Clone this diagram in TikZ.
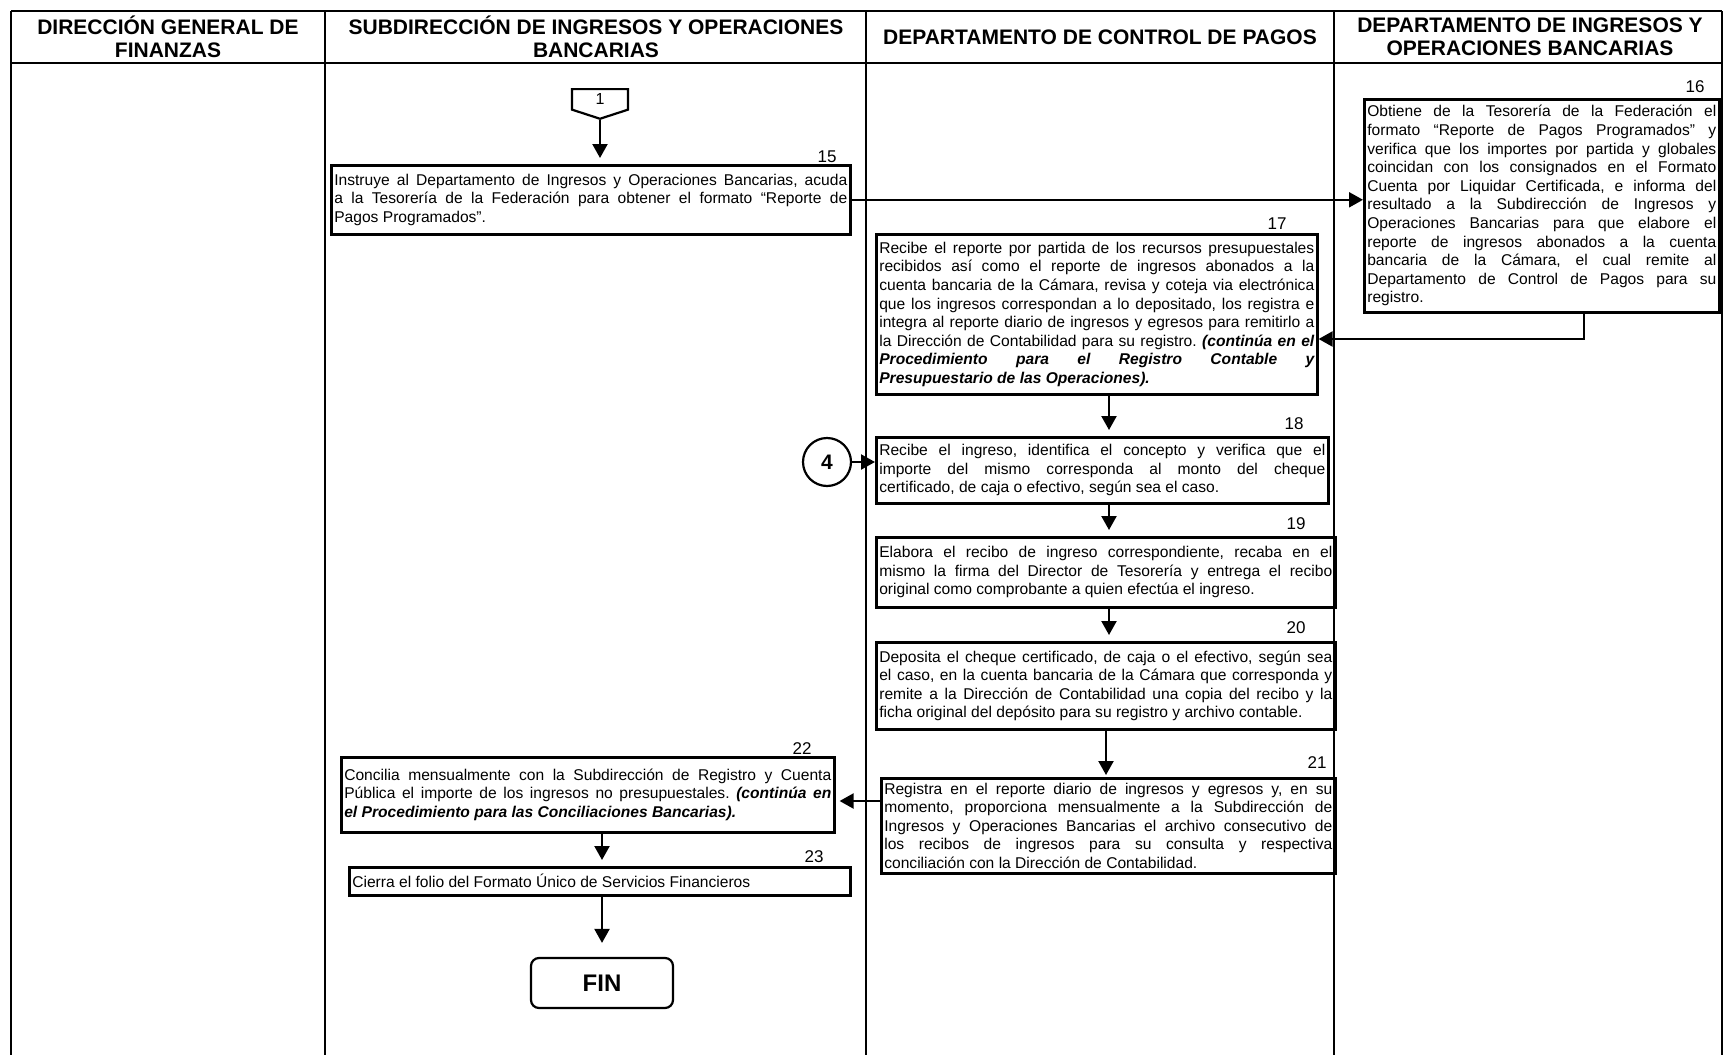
\documentclass[tikz,border=0pt]{standalone}
\usepackage{fontspec}
\setmainfont{Liberation Sans}
\usepackage{tikz}
\usetikzlibrary{arrows.meta,shapes.symbols}
\hyphenpenalty=10000
\exhyphenpenalty=10000
\frenchspacing

\begin{document}
\begin{tikzpicture}[x=0.5pt, y=-0.5pt,
        lane/.style={line width=0.9pt},
        head/.style={align=center, font=\bfseries\fontsize{10.5}{11.5}\selectfont},
        task/.style={rectangle, draw, line width=1.3pt, anchor=north west, align=justify, inner xsep=1.5pt, inner ysep=1.5pt, font=\fontsize{7.8}{9.3}\selectfont,
            execute at begin node={\spaceskip=0.278em plus 2em minus 0.1em\relax}},
        num/.style={font=\fontsize{8.5}{8.5}\selectfont, inner sep=0pt},
        flow/.style={draw=black, -{Triangle[length=7pt, width=7.5pt]}, line width=1.1pt}
    ]
    \useasboundingbox (0,0) rectangle (1725,1055);

    % lanes
    \draw[lane] (11,11) -- (1722,11);
    \draw[lane] (11,63) -- (1722,63);
    \foreach \x in {11,325,866,1334,1722}
        \draw[lane] (\x,11) -- (\x,1055);

    \node[head] (h1) at (168,37) {DIRECCIÓN GENERAL DE\\FINANZAS};
    \node[head] (h2) at (596,37) {SUBDIRECCIÓN DE INGRESOS Y OPERACIONES\\BANCARIAS};
    \node[head] (h3) at (1100,37) {DEPARTAMENTO DE CONTROL DE PAGOS};
    \node[head] (h4) at (1530,37) {DEPARTAMENTO DE INGRESOS Y\\OPERACIONES BANCARIAS};

    % flow lines of the lanes
    \coordinate (sx) at (602,0);
    \coordinate (cx) at (1109,0);

    \node[signal, draw, signal to=south, signal pointer angle=144, line width=1.1pt, minimum width=28pt, minimum height=11pt, anchor=north, inner sep=0pt, font=\fontsize{8}{8}\selectfont] (c1) at (600,88) {1};

    \node[task, text width=256.5pt, minimum height=34.5pt] (b15) at (330,164) {Instruye al Departamento de Ingresos y Operaciones Bancarias, acuda\linebreak a la Tesorería de la Federación para obtener el formato “Reporte de\linebreak Pagos Programados”.};
    \node[task, text width=174.5pt, minimum height=106.5pt] (b16) at (1363,98) {Obtiene de la Tesorería de la Federación el\linebreak formato “Reporte de Pagos Programados” y\linebreak verifica que los importes por partida y globales\linebreak coincidan con los consignados en el Formato\linebreak Cuenta por Liquidar Certificada, e informa del\linebreak resultado a la Subdirección de Ingresos y\linebreak Operaciones Bancarias para que elabore el\linebreak reporte de ingresos abonados a la cuenta\linebreak bancaria de la Cámara, el cual remite al\linebreak Departamento de Control de Pagos para su\linebreak registro.};
    \node[task, text width=217.5pt, minimum height=80pt] (b17) at (875,233) {Recibe el reporte por partida de los recursos presupuestales\linebreak recibidos así como el reporte de ingresos abonados a la\linebreak cuenta bancaria de la Cámara, revisa y coteja via electrónica\linebreak que los ingresos correspondan a lo depositado, los registra e\linebreak integra al reporte diario de ingresos y egresos para remitirlo a\linebreak la Dirección de Contabilidad para su registro. \textbf{\textit{(continúa en el\linebreak Procedimiento para el Registro Contable y\linebreak Presupuestario de las Operaciones).}}};
    \node[task, text width=223pt, minimum height=33pt] (b18) at (875,436) {Recibe el ingreso, identifica el concepto y verifica que el\linebreak importe del mismo corresponda al monto del cheque\linebreak certificado, de caja o efectivo, según sea el caso.};
    \node[task, text width=226.5pt, minimum height=35pt] (b19) at (875,536) {Elabora el recibo de ingreso correspondiente, recaba en el\linebreak mismo la firma del Director de Tesorería y entrega el recibo\linebreak original como comprobante a quien efectúa el ingreso.};
    \node[task, text width=226.5pt, minimum height=43.5pt] (b20) at (875,641) {Deposita el cheque certificado, de caja o el efectivo, según sea\linebreak el caso, en la cuenta bancaria de la Cámara que corresponda y\linebreak remite a la Dirección de Contabilidad una copia del recibo y la\linebreak ficha original del depósito para su registro y archivo contable.};
    \node[task, text width=224pt, minimum height=47.5pt] (b21) at (880,777) {Registra en el reporte diario de ingresos y egresos y, en su\linebreak momento, proporciona mensualmente a la Subdirección de\linebreak Ingresos y Operaciones Bancarias el archivo consecutivo de\linebreak los recibos de ingresos para su consulta y respectiva\linebreak conciliación con la Dirección de Contabilidad.};
    \node[task, text width=243.5pt, minimum height=37.5pt] (b22) at (340,756) {Concilia mensualmente con la Subdirección de Registro y Cuenta\linebreak Pública el importe de los ingresos no presupuestales. \textbf{\textit{(continúa en\linebreak el Procedimiento para las Conciliaciones Bancarias).}}};
    \node[task, text width=247.5pt, minimum height=14pt] (b23) at (348,866) {Cierra el folio del Formato Único de Servicios Financieros};

    \node[circle, draw, line width=1.1pt, minimum size=24pt, inner sep=0pt, font=\bfseries\fontsize{10.5}{10.5}\selectfont] (c4) at (827,462) {4};
    \node[rectangle, draw, line width=1.1pt, rounded corners=4pt, minimum width=71pt, minimum height=25pt, font=\bfseries\fontsize{12}{12}\selectfont] (fin) at (602,983) {FIN};

    % step numbers
    \node[num] (n15) at (827,157) {15};
    \node[num] (n16) at (1695,87) {16};
    \node[num] (n17) at (1277,224) {17};
    \node[num] (n18) at (1294,424) {18};
    \node[num] (n19) at (1296,524) {19};
    \node[num] (n20) at (1296,628) {20};
    \node[num] (n21) at (1317,763) {21};
    \node[num] (n22) at (802,749) {22};
    \node[num] (n23) at (814,857) {23};

    \coordinate (k17) at (1584,339);
    \coordinate (k22) at (0,801);

    \draw[flow, shorten >=3pt] (c1.south) -- (c1.south |- b15.north);
    \draw[flow] (b15.east) -- (b15.east -| b16.west);
    \draw[flow] (b16.south -| k17) |- (b17.east |- k17);
    \draw[flow, shorten >=3pt] (b17.south -| cx) -- (b18.north -| cx);
    \draw[flow] (c4) -- (c4 -| b18.west);
    \draw[flow, shorten >=3pt] (b18.south -| cx) -- (b19.north -| cx);
    \draw[flow, shorten >=3pt] (b19.south -| cx) -- (b20.north -| cx);
    \draw[flow, shorten >=1pt] ([xshift=-1.5pt]b20.south -| cx) -- ([xshift=-1.5pt]b21.north -| cx);
    \draw[flow, shorten >=2pt] (b21.west |- k22) -- (b22.east |- k22);
    \draw[flow, shorten >=3pt] (b22.south -| sx) -- (b23.north -| sx);
    \draw[flow, shorten >=7pt] (b23.south -| sx) -- (fin.north);
\end{tikzpicture}
\end{document}
